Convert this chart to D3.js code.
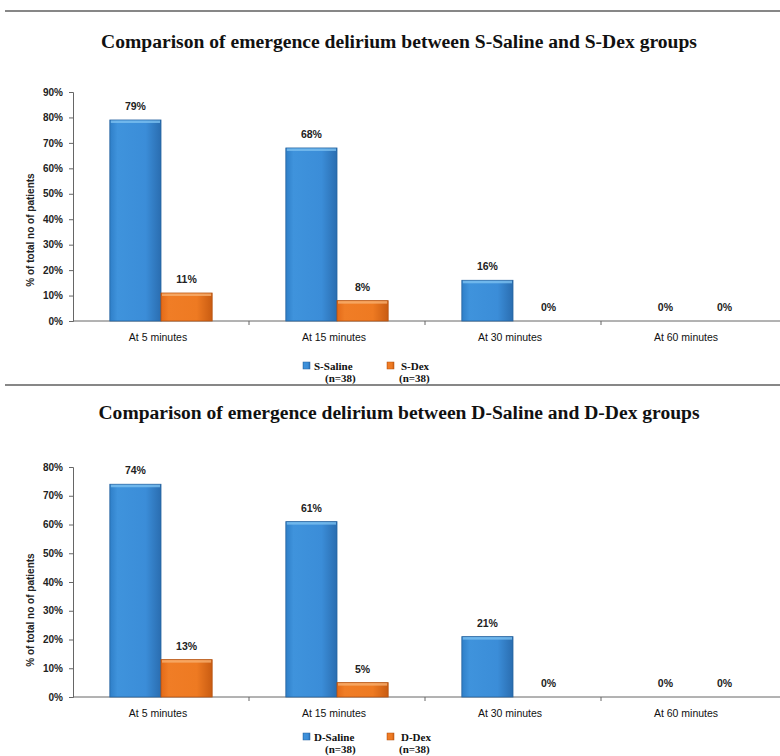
<!DOCTYPE html>
<html>
<head>
  <meta charset="UTF-8">
  <title>Emergence delirium</title>
  <script src="https://d3js.org/d3.v7.min.js"></script>
  <style>
    body { margin: 0; background: #fff; }
  </style>
</head>
<body>
  <svg id="chart" width="780" height="756"></svg>
  <script>
    // data
    const categories = ["At 5 minutes", "At 15 minutes", "At 30 minutes", "At 60 minutes"];
    const sSaline = [79, 68, 16, 0];
    const sDex = [11, 8, 0, 0];
    const dSaline = [74, 61, 21, 0];
    const dDex = [13, 5, 0, 0];
    const topTicks = [0, 10, 20, 30, 40, 50, 60, 70, 80, 90];
    const bottomTicks = [0, 10, 20, 30, 40, 50, 60, 70, 80];

    const svg = d3.select("#chart");
    const defs = svg.append("defs");

    // bar gradients (the 3d look of the excel bars)
    function grad(id, stops) {
      const g = defs.append("linearGradient").attr("id", id)
        .attr("x1", 0).attr("x2", 1).attr("y1", 0).attr("y2", 0);
      stops.forEach(s => g.append("stop").attr("offset", s[0]).attr("stop-color", s[1]));
    }
    grad("blueGrad", [[0, "#2f7fc8"], [0.15, "#3f93dc"], [0.7, "#3b8dd8"], [1, "#2a6db0"]]);
    grad("orangeGrad", [[0, "#e36a18"], [0.15, "#f07d26"], [0.7, "#ee7a22"], [1, "#c95c12"]]);

    const blue = "url(#blueGrad)";
    const orange = "url(#orangeGrad)";

    // divider lines
    svg.append("line").attr("x1", 5).attr("x2", 780).attr("y1", 11).attr("y2", 11)
      .attr("stroke", "#111").attr("stroke-width", 1.2);
    svg.append("line").attr("x1", 5).attr("x2", 780).attr("y1", 385).attr("y2", 385)
      .attr("stroke", "#111").attr("stroke-width", 1.2);

    function drawChart(opt) {
      const g = svg.append("g");

      g.append("text")
        .attr("x", 399).attr("y", opt.titleY)
        .attr("text-anchor", "middle")
        .attr("font-family", "'Liberation Serif', 'Times New Roman', serif")
        .attr("font-weight", "bold")
        .attr("font-size", 18)
        .attr("textLength", opt.titleW).attr("lengthAdjust", "spacingAndGlyphs")
        .attr("fill", "#111")
        .text(opt.title);

      const x = d3.scaleBand().domain(categories).range([73, 777]);
      const inner = d3.scaleBand().domain(["saline", "dex"]).range([0, x.bandwidth()])
        .paddingInner(0).paddingOuter(0.72);
      const y = d3.scaleLinear().domain([0, d3.max(opt.ticks)]).range([opt.y0, opt.y1]);

      // y axis
      const yAxis = g.append("g").attr("transform", "translate(73,0)")
        .call(d3.axisLeft(y).tickValues(opt.ticks).tickSize(4).tickFormat(d => d + "%"));
      yAxis.select(".domain").attr("stroke", "#666");
      yAxis.selectAll(".tick line").attr("stroke", "#666");
      yAxis.selectAll("text")
        .attr("font-family", "'Liberation Sans', Arial, sans-serif")
        .attr("font-weight", "bold").attr("font-size", 10).attr("fill", "#222")
        .attr("x", -10);

      // x axis with ticks between categories
      const xAxis = g.append("g").attr("transform", `translate(0,${opt.y0})`);
      xAxis.append("line").attr("x1", 73).attr("x2", 780).attr("y1", 0).attr("y2", 0)
        .attr("stroke", "#666");
      xAxis.selectAll(".sep").data(categories.slice(1)).join("line")
        .attr("x1", d => x(d)).attr("x2", d => x(d)).attr("y1", 0).attr("y2", 4)
        .attr("stroke", "#666");
      xAxis.selectAll(".cat").data(categories).join("text")
        .attr("x", d => x(d) + x.bandwidth() / 2 - 3).attr("y", 20)
        .attr("text-anchor", "middle")
        .attr("font-family", "'Liberation Sans', Arial, sans-serif")
        .attr("font-size", 10.5).attr("fill", "#111")
        .text(d => d);

      // bars
      const series = [
        { key: "saline", values: opt.saline, fill: blue, stroke: "#25629e", top: "#7cc0f0" },
        { key: "dex", values: opt.dex, fill: orange, stroke: "#b5520f", top: "#f8b070" }
      ];
      series.forEach(s => {
        s.values.forEach((v, i) => {
          const bx = x(categories[i]) + inner(s.key);
          const bw = inner.bandwidth();
          if (v > 0) {
            g.append("rect")
              .attr("x", bx).attr("y", y(v))
              .attr("width", bw).attr("height", y(0) - y(v))
              .attr("fill", s.fill).attr("stroke", s.stroke).attr("stroke-width", 0.8);
            g.append("rect")
              .attr("x", bx + 1).attr("y", y(v) + 0.5)
              .attr("width", bw - 2).attr("height", 2.5)
              .attr("fill", s.top).attr("opacity", 0.8);
          }
          // zero labels sit a little to the right in the original
          const dx = v === 0 ? (s.key === "dex" ? 10 : 2) : 0;
          g.append("text")
            .attr("x", bx + bw / 2 + dx).attr("y", y(v) - 10)
            .attr("text-anchor", "middle")
            .attr("font-family", "'Liberation Sans', Arial, sans-serif")
            .attr("font-weight", "bold").attr("font-size", 10.5).attr("fill", "#222")
            .text(v + "%");
        });
      });

      // y axis title
      g.append("text")
        .attr("transform", `translate(34,${opt.labelY}) rotate(-90)`)
        .attr("text-anchor", "middle")
        .attr("font-family", "'Liberation Sans', Arial, sans-serif")
        .attr("font-weight", "bold").attr("font-size", 10).attr("fill", "#222")
        .text("% of total no of patients");

      // legend
      const lg = g.append("g").attr("transform", `translate(0,${opt.legendY})`)
        .attr("font-family", "'Liberation Serif', 'Times New Roman', serif")
        .attr("font-weight", "bold").attr("font-size", 11).attr("fill", "#111");
      const items = [
        { name: opt.names[0], fill: blue, stroke: "#25629e", sx: 303, tx: 314, nx: 325 },
        { name: opt.names[1], fill: orange, stroke: "#b5520f", sx: 387, tx: 401, nx: 399 }
      ];
      items.forEach(it => {
        lg.append("rect").attr("x", it.sx).attr("y", -4).attr("width", 7).attr("height", 7)
          .attr("fill", it.fill).attr("stroke", it.stroke).attr("stroke-width", 0.5);
        lg.append("text").attr("x", it.tx).attr("y", 4).text(it.name);
        lg.append("text").attr("x", it.nx).attr("y", 16).text("(n=38)");
      });
    }

    drawChart({
      title: "Comparison of emergence delirium between S-Saline and S-Dex groups",
      titleY: 48, titleW: 596,
      ticks: topTicks, y0: 321, y1: 92,
      saline: sSaline, dex: sDex,
      labelY: 230, legendY: 366,
      names: ["S-Saline", "S-Dex"]
    });

    drawChart({
      title: "Comparison of emergence delirium between D-Saline and D-Dex groups",
      titleY: 419, titleW: 601,
      ticks: bottomTicks, y0: 697, y1: 467,
      saline: dSaline, dex: dDex,
      labelY: 610, legendY: 737,
      names: ["D-Saline", "D-Dex"]
    });
  </script>
</body>
</html>
